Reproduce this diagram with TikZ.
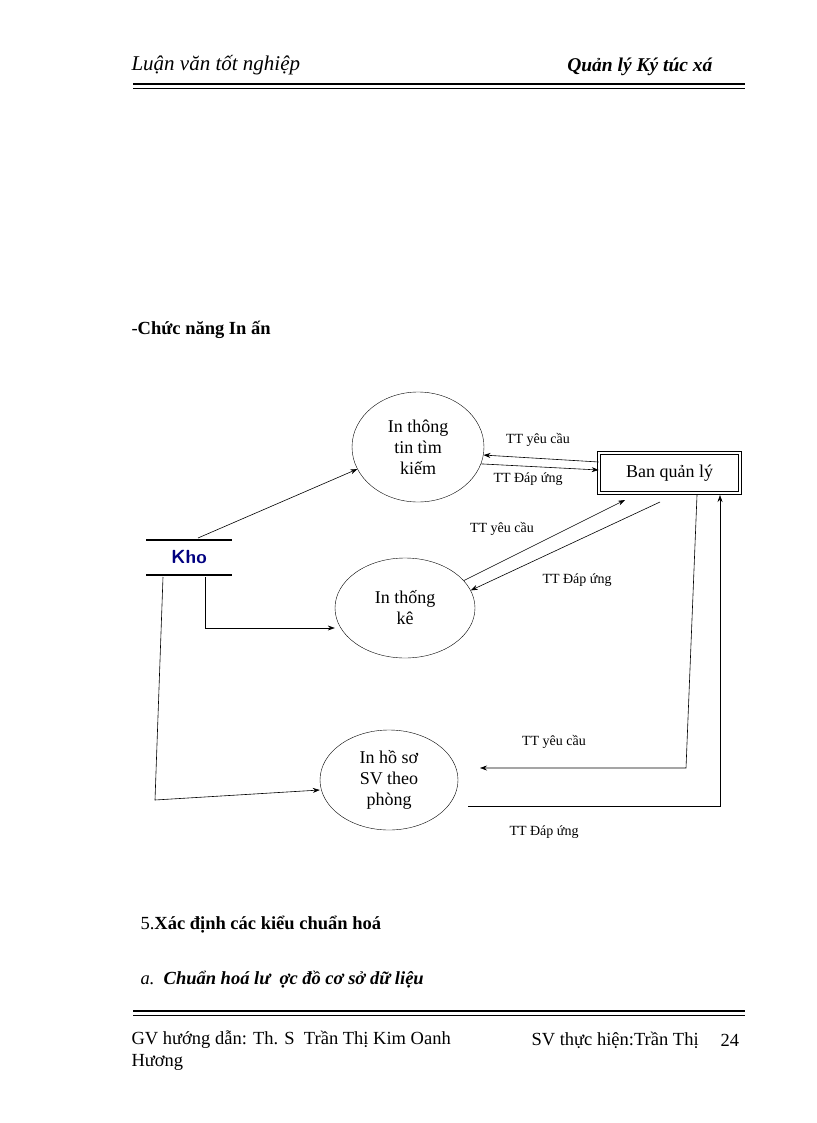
\documentclass[tikz,border=0pt]{standalone}
\usepackage{fontspec}
\setmainfont{Liberation Serif}
\usetikzlibrary{arrows.meta,shapes.geometric}
\begin{document}
\begin{tikzpicture}[x=1pt,y=-1pt,
 proc/.style={draw,ellipse,minimum width=132pt,minimum height=110pt,align=center,inner sep=0pt,font=\fontsize{18}{21}\selectfont},
 flow/.style={-{Stealth[length=7pt,width=5pt]},line width=0.6pt},
 lab/.style={font=\fontsize{14}{16}\selectfont},
 txt/.style={anchor=west,font=\fontsize{18.5}{21}\selectfont}]
\useasboundingbox (0,0) rectangle (816,1123);
% header
\node[txt] (h1) at (128,65) {\fontsize{21}{23}\selectfont\itshape Luận văn tốt nghiệp};
\node[txt,anchor=east] (h2) at (716,67) {\fontsize{19.5}{22}\selectfont\bfseries\itshape Quản lý Ký túc xá};
\draw[line width=1.5pt] (133,84) -- (745,84);
\draw[line width=0.6pt] (133,88) -- (745,88);
\node[txt] (t1) at (128,330) {-\textbf{Chức năng In ấn}};
% nodes
\node[proc] (e1) at (418,447) {In thông\\tin tìm\\kiếm};
\node[proc,minimum width=140pt,minimum height=100pt] (e2) at (405,608) {In thống\\kê};
\node[proc,minimum width=138pt,minimum height=100pt] (e3) at (389,780) {In hồ sơ\\SV theo\\phòng};
\node[draw,double,double distance=2pt,line width=0.6pt,minimum width=141pt,minimum height=40pt,font=\fontsize{18}{21}\selectfont] (b) at (669.5,473) {Ban quản lý};
\draw[line width=1.5pt] (146,540) -- (232,540) (146,575) -- (232,575);
\node[font=\fontsize{19}{21}\selectfont\sffamily\bfseries,text=blue!50!black] (k) at (189,557) {Kho};
% connectors
\coordinate (k1) at (198,538);
\draw[flow] (k1) -- (e1.200);
\draw[flow] (b.west|-0,462) -- (e1.-7);
\draw[flow] (e1.-15) -- (b.west|-0,470);
\node[lab] at (538,440) {TT yêu cầu};
\node[lab] at (528,479) {TT Đáp ứng};
\draw[flow] (e2.25) -- (625,500);
\draw[flow] (660,502) -- (e2.15);
\node[lab] at (502,529) {TT yêu cầu};
\node[lab] at (577,580) {TT Đáp ứng};
\draw[flow] (205,577) -- (205,628) -- (e2.west|-0,628);
\draw[flow] (163,577) -- (155,800) -- (e3.west|-0,790);
\draw[flow] (697,495) -- (686,768) -- (480,768);
\node[lab] at (554,742) {TT yêu cầu};
\draw[flow] (468,806) -- (720,806) -- (720,495);
\node[lab] at (544,832) {TT Đáp ứng};
% bottom text
\node[txt] (s5) at (137,925) {5.\textbf{Xác định các kiểu chuẩn hoá}};
\node[txt] (sa) at (137,980) {\itshape a.\ \ \bfseries Chuẩn hoá lư\ \ ợc đồ cơ sở dữ liệu};
\draw[line width=1.5pt] (133,1011) -- (745,1011);
\draw[line width=0.6pt] (133,1015) -- (745,1015);
\node[txt] (f1) at (128,1040) {GV hướng dẫn: Th. S\ \ Trần Thị Kim Oanh};
\node[txt] (f2) at (128,1062) {Hương};
\node[txt] (f3) at (528,1040) {SV thực hiện:Trần Thị};
\node[txt] (f4) at (717,1040) {24};
\end{tikzpicture}
\end{document}
